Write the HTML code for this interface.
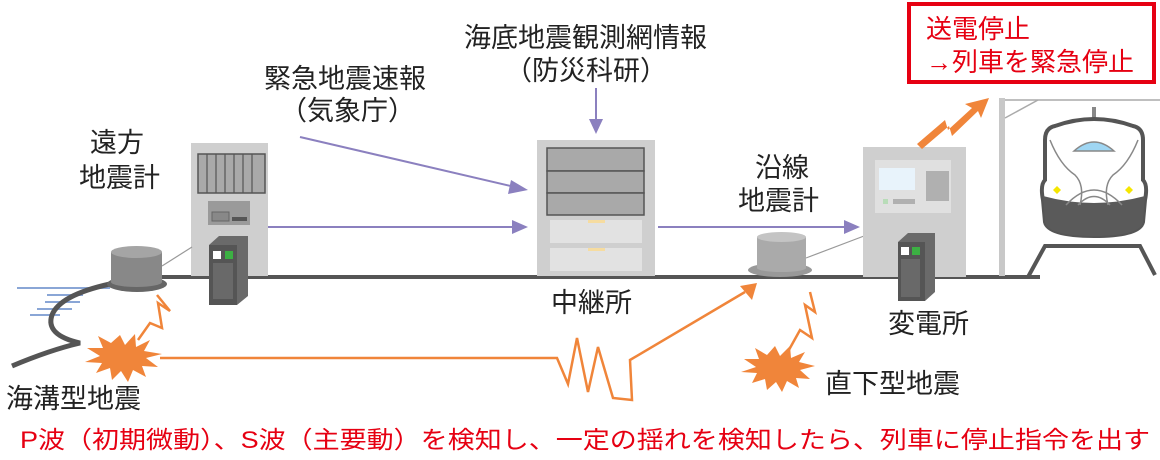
<!DOCTYPE html>
<html><head><meta charset="utf-8"><style>
html,body{margin:0;padding:0;background:#fff;width:1160px;height:460px;overflow:hidden}
svg{display:block}
text{font-family:"Liberation Sans","Noto Sans CJK JP",sans-serif;fill:#222}
</style></head><body>
<svg width="1160" height="460" viewBox="0 0 1160 460" xmlns="http://www.w3.org/2000/svg">
<!-- water lines -->
<g stroke="#8aa6d6" stroke-width="2">
<line x1="17" y1="288" x2="110" y2="288"/><line x1="47" y1="295" x2="83" y2="295"/>
<line x1="45" y1="302" x2="80" y2="302"/><line x1="37" y1="309" x2="72" y2="309"/>
<line x1="30" y1="315" x2="60" y2="315"/>
</g>
<!-- ground/cable -->
<path d="M12,366 Q50,350 80,343 Q45,335 52,315 Q60,295 110,284" fill="none" stroke="#555" stroke-width="5"/>
<line x1="160" y1="277" x2="1040" y2="277" stroke="#555" stroke-width="4"/>
<path d="M1028,277 L1045,246 L1140,246 L1155,275" fill="none" stroke="#555" stroke-width="4"/>
<!-- far seismometer building -->
<rect x="191" y="143" width="77" height="133" fill="#cfcfcf"/>
<rect x="198" y="154" width="67" height="39" fill="#a9a9a9" stroke="#555" stroke-width="1.5"/>
<g stroke="#555" stroke-width="1.2"><line x1="207" y1="154" x2="207" y2="193"/><line x1="216" y1="154" x2="216" y2="193"/><line x1="225" y1="154" x2="225" y2="193"/><line x1="234" y1="154" x2="234" y2="193"/><line x1="243" y1="154" x2="243" y2="193"/><line x1="252" y1="154" x2="252" y2="193"/></g>
<rect x="208" y="201" width="42" height="24" fill="#9a9a9a"/>
<rect x="212" y="212" width="17" height="9" fill="#888" stroke="#666"/>
<rect x="232" y="217" width="15" height="4" fill="#555"/>
<line x1="162" y1="266" x2="192" y2="247" stroke="#999" stroke-width="1.2"/>
<!-- server cabinet left -->
<polygon points="209,245 219,236 248,236 248,296 237,305 209,305" fill="#6a6a6a"/>
<rect x="209" y="245" width="28" height="60" fill="#555"/>
<rect x="213" y="251" width="8" height="8" fill="#fff"/><rect x="225" y="251" width="8" height="8" fill="#3cb043"/>
<rect x="213" y="263" width="20" height="36" fill="#777" opacity=".6"/>
<!-- left sensor -->
<ellipse cx="137" cy="284" rx="30" ry="8" fill="#666"/>
<rect x="111" y="252" width="51" height="30" fill="#888"/>
<ellipse cx="136.5" cy="282" rx="25.5" ry="5" fill="#888"/>
<ellipse cx="136.5" cy="252" rx="25.5" ry="6" fill="#a5a5a5"/>
<!-- relay station -->
<rect x="537" y="140" width="118" height="136" fill="#cfcfcf"/>
<rect x="547" y="148" width="97" height="23" fill="#a9a9a9" stroke="#555" stroke-width="1.5"/>
<rect x="547" y="171" width="97" height="22" fill="#a9a9a9" stroke="#555" stroke-width="1.5"/>
<rect x="547" y="193" width="97" height="22" fill="#a9a9a9" stroke="#555" stroke-width="1.5"/>
<rect x="550" y="220" width="92" height="23" fill="#e2e2e2"/>
<rect x="550" y="248" width="92" height="23" fill="#e2e2e2"/>
<rect x="588" y="220" width="17" height="3" fill="#f6dca0"/><rect x="588" y="248" width="17" height="3" fill="#f6dca0"/>
<!-- purple arrows -->
<g stroke="#8b80bf" stroke-width="2" fill="#8b80bf">
<line x1="268" y1="227" x2="515" y2="227"/><polygon points="528,227 512,220 512,234" stroke="none"/>
<line x1="300" y1="137" x2="515" y2="187"/><polygon points="528,190 511,180 508,194" stroke="none"/>
<line x1="596" y1="88" x2="596" y2="122"/><polygon points="596,134 589,119 603,119" stroke="none"/>
<line x1="658" y1="227" x2="846" y2="227"/><polygon points="860,227 844,220 844,234" stroke="none"/>
</g>
<!-- along-line sensor -->
<line x1="806" y1="258" x2="864" y2="236" stroke="#999" stroke-width="1.2"/>
<ellipse cx="780" cy="270" rx="32" ry="7" fill="#999"/>
<rect x="757" y="237" width="49" height="31" fill="#aaa"/>
<ellipse cx="781.5" cy="268" rx="24.5" ry="4" fill="#aaa"/>
<ellipse cx="781.5" cy="237" rx="24.5" ry="5" fill="#c4c4c4"/>
<!-- substation -->
<rect x="863" y="147" width="103" height="130" fill="#cfcfcf"/>
<rect x="875" y="160" width="76" height="53" fill="#e0e0e0"/>
<rect x="879" y="168" width="36" height="22" fill="#e8f3fb"/>
<rect x="926" y="171" width="23" height="30" fill="#b0b0b0"/>
<rect x="883" y="199" width="5" height="5" fill="#b8dcb8"/>
<rect x="893" y="199" width="22" height="5" fill="#b0b0b0"/>
<polygon points="898,242 908,233 935,233 935,292 925,301 898,301" fill="#6a6a6a"/>
<rect x="898" y="242" width="27" height="59" fill="#555"/>
<rect x="901" y="247" width="8" height="8" fill="#fff"/><rect x="912" y="247" width="8" height="8" fill="#3cb043"/>
<rect x="901" y="259" width="19" height="38" fill="#777" opacity=".6"/>
<!-- pole and wires -->
<rect x="999" y="98" width="6" height="178" fill="#c8c8c8"/>
<line x1="1005" y1="100" x2="1160" y2="100" stroke="#aaa" stroke-width="1.5"/>
<line x1="1005" y1="118" x2="1038" y2="100" stroke="#aaa" stroke-width="1.5"/>
<!-- train -->
<rect x="1092" y="107" width="4" height="12" fill="#888"/>
<path d="M1055,126 Q1094,112 1133,126 Q1143,128 1143,140 L1143,180 Q1148,185 1145,200 L1143,222 Q1140,236 1094,236 Q1048,236 1045,222 L1043,200 Q1040,185 1045,180 L1045,140 Q1045,128 1055,126 Z" fill="#fff" stroke="#555" stroke-width="4"/>
<path d="M1043,196 Q1094,210 1145,196 L1143,222 Q1140,236 1094,236 Q1048,236 1045,222 Z" fill="#5a5a5a"/>
<path d="M1074,151 Q1094,133 1114,151 Z" fill="#9fd6f3" stroke="#888" stroke-width="1.5"/>
<path d="M1050,140 Q1060,165 1075,175 Q1085,185 1080,205 M1138,140 Q1128,165 1113,175 Q1103,185 1108,205" fill="none" stroke="#888" stroke-width="1.5"/>
<path d="M1066,205 Q1094,175 1122,205 M1078,205 Q1094,188 1110,205" fill="none" stroke="#888" stroke-width="1.5"/>
<polygon points="1057,186 1061,190 1057,194 1053,190" fill="#f5e600"/>
<polygon points="1129,186 1133,190 1129,194 1125,190" fill="#f5e600"/>
<!-- red box -->
<rect x="909" y="4" width="245" height="78" fill="#fff" stroke="#e60012" stroke-width="4"/>
<text x="926" y="38" font-size="26" style="fill:#e60012">送電停止</text>
<text x="926" y="71" font-size="26" style="fill:#e60012">→列車を緊急停止</text>
<!-- orange -->
<g fill="#f0853a">
<polygon points="120,335 125,345 135,334 136,347 150,340 144,351 162,354 146,358 158,367 142,366 146,377 133,370 128,382 121,371 112,380 110,368 96,373 102,363 85,362 100,356 87,348 103,348 98,336 111,343"/>
<polygon points="775,346 780,356 790,346 791,358 805,352 799,362 815,366 800,370 810,379 796,378 799,388 787,381 782,392 776,382 767,390 765,379 752,383 757,373 741,372 756,367 744,359 759,359 755,348 767,355"/>
</g>
<g fill="none" stroke="#f0853a" stroke-width="2.5">
<polyline points="160,358 557,358 568,384 577,338 588,392 598,347 613,398 632,400 630,360 745,292"/>
<polyline points="138,340 150,323 162,328 158,303 170,311 157,295"/>
<polyline points="785,357 800,330 812,338 805,305 815,312 810,292"/>
</g>
<polygon points="757,283 740,286 752,300" fill="#f0853a"/>
<polygon points="917,144 945,120 948,130 972,108 965,104 989,98 981,118 978,111 952,136 949,126 922,149" fill="#f0853a"/>
<!-- labels -->
<g font-size="27">
<text x="90" y="152">遠方</text>
<text x="79" y="187">地震計</text>
<text x="264" y="88">緊急地震速報</text>
<text x="280" y="120">（気象庁）</text>
<text x="464" y="47">海底地震観測網情報</text>
<text x="505" y="80">（防災科研）</text>
<text x="755" y="177">沿線</text>
<text x="738" y="210">地震計</text>
<text x="551" y="312">中継所</text>
<text x="888" y="333">変電所</text>
<text x="6" y="408">海溝型地震</text>
<text x="825" y="393">直下型地震</text>
</g>
<text x="20" y="448" font-size="24" textLength="1130" lengthAdjust="spacingAndGlyphs" style="fill:#e60012">P波（初期微動）、S波（主要動）を検知し、一定の揺れを検知したら、列車に停止指令を出す</text>
</svg>
</body></html>
